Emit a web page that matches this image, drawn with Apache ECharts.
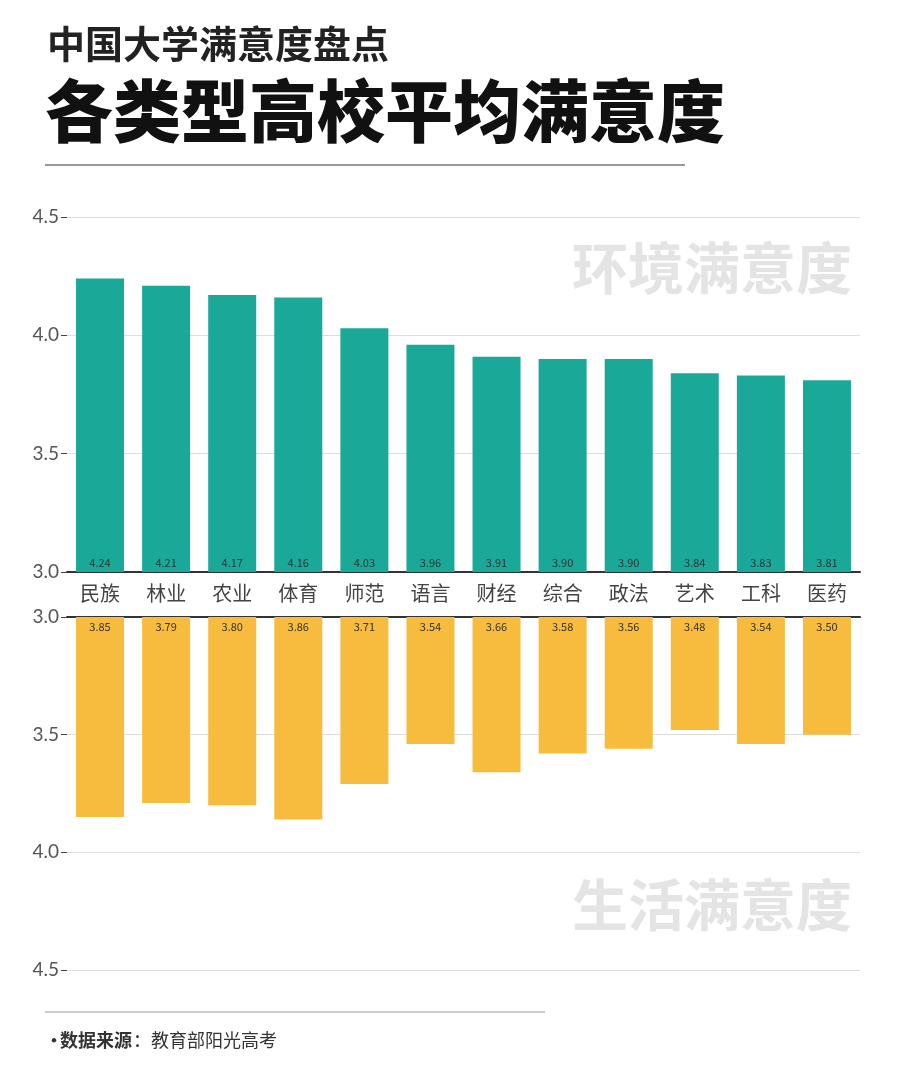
<!DOCTYPE html>
<html><head><meta charset="utf-8">
<script src="https://cdn.jsdelivr.net/npm/echarts@6/dist/echarts.min.js"></script>
<style>html,body{margin:0;padding:0;background:#fff}#c{width:900px;height:1081px}</style>
</head><body><div id="c"></div>
<script>
var categories = ['民族', '林业', '农业', '体育', '师范', '语言', '财经', '综合', '政法', '艺术', '工科', '医药'];
var envValues = [4.24, 4.21, 4.17, 4.16, 4.03, 3.96, 3.91, 3.90, 3.90, 3.84, 3.83, 3.81];
var lifeValues = [3.85, 3.79, 3.80, 3.86, 3.71, 3.54, 3.66, 3.58, 3.56, 3.48, 3.54, 3.50];

var chart = echarts.init(document.getElementById('c'));
var font = '"Noto Sans CJK SC", "Noto Sans", sans-serif';
var yAxisBase = {
  type: 'value', min: 3, max: 4.5, interval: 0.5,
  axisLabel: { color: '#555', fontSize: 19, fontFamily: 'Lato, sans-serif', margin: 8, formatter: function (v) { return v.toFixed(1); } },
  axisLine: { show: false },
  axisTick: { show: true, length: 6, lineStyle: { color: '#444' } },
  splitLine: { lineStyle: { color: '#ddd' } }
};
var barLabel = { show: true, position: 'insideBottom', distance: 4, fontSize: 11, color: '#333', formatter: function (p) { return p.value.toFixed(2); } };

chart.setOption({
  animation: false,
  textStyle: { fontFamily: font },
  title: [
    { text: '中国大学满意度盘点', left: 42, top: 20, textStyle: { fontSize: 38, fontWeight: 'bold', color: '#222', fontFamily: font } },
    { text: '各类型高校平均满意度', left: 40, top: 72, textStyle: { fontSize: 68, fontWeight: 900, color: '#111', fontFamily: font } }
  ],
  graphic: [
    { type: 'line', shape: { x1: 45, y1: 165, x2: 685, y2: 165 }, style: { stroke: '#999', lineWidth: 2 } },
    { type: 'line', shape: { x1: 45, y1: 1012, x2: 545, y2: 1012 }, style: { stroke: '#999', lineWidth: 1 } },
    { type: 'text', left: 45, top: 1031, style: { text: '• ', font: 'bold 18px ' + font, fill: '#333' } },
    { type: 'text', left: 60, top: 1031, style: { text: '数据来源', font: 'bold 18px ' + font, fill: '#333' } },
    { type: 'text', left: 133, top: 1031, style: { text: '：教育部阳光高考', font: '18px ' + font, fill: '#333' } },
    { type: 'text', right: 48, top: 240, style: { text: '环境满意度', font: 'bold 56px ' + font, fill: '#e4e4e4' } },
    { type: 'text', right: 48, top: 877, style: { text: '生活满意度', font: 'bold 56px ' + font, fill: '#e4e4e4' } }
  ],
  grid: [
    { left: 67, right: 40, top: 217, height: 355 },
    { left: 67, right: 40, top: 617, height: 353 }
  ],
  xAxis: [
    { gridIndex: 0, type: 'category', data: categories, axisTick: { show: false },
      axisLine: { lineStyle: { color: '#333', width: 2 } },
      axisLabel: { color: '#444', fontSize: 20, margin: 11 } },
    { gridIndex: 1, type: 'category', data: categories, position: 'top', axisTick: { show: false },
      axisLine: { lineStyle: { color: '#333', width: 2 } }, axisLabel: { show: false } }
  ],
  yAxis: [
    Object.assign({ gridIndex: 0 }, yAxisBase),
    Object.assign({ gridIndex: 1, inverse: true }, yAxisBase)
  ],
  series: [
    { type: 'bar', xAxisIndex: 0, yAxisIndex: 0, data: envValues, barWidth: 48, itemStyle: { color: '#1aa898' }, label: barLabel },
    { type: 'bar', xAxisIndex: 1, yAxisIndex: 1, data: lifeValues, barWidth: 48, itemStyle: { color: '#f7bb3d' }, label: Object.assign({}, barLabel, { position: 'insideTop' }) }
  ]
});
</script>
</body></html>
